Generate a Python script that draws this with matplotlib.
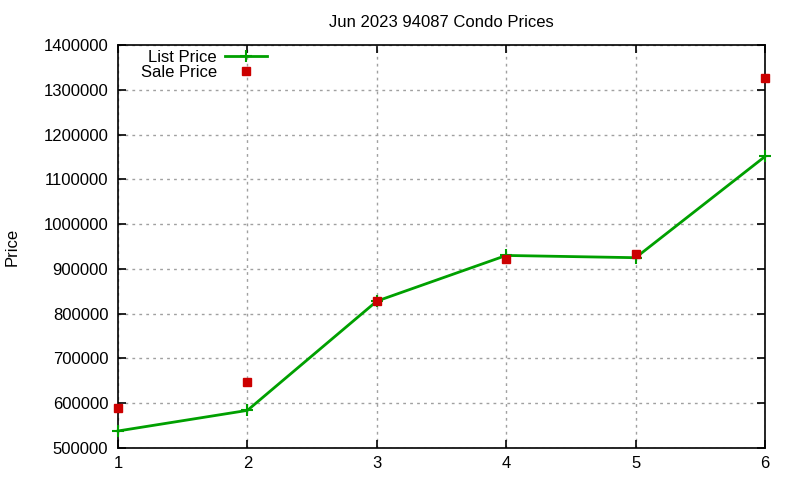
import matplotlib
matplotlib.use('Agg')
import matplotlib.pyplot as plt
from matplotlib.ticker import MultipleLocator, FuncFormatter

# Data
months = [1, 2, 3, 4, 5, 6]
list_price = [538000, 584000, 828000, 930000, 925000, 1151000]
sale_price = [589000, 648000, 828000, 923000, 934000, 1326000]

plt.rcParams['font.family'] = ['Liberation Sans', 'DejaVu Sans']

fig = plt.figure(figsize=(8, 4.8), dpi=100)
ax = fig.add_axes([118 / 800, 1 - 448 / 480, (765 - 118) / 800, (448 - 45) / 480])

# List price line with crosses, sale price squares
ax.plot(months, list_price, color='#00a000', linewidth=2, marker='+',
        markersize=9, markeredgewidth=1.5, label='List Price', zorder=3,
        clip_on=False)
ax.plot(months, sale_price, linestyle='none', marker='s', color='#cc0000',
        markersize=6, label='Sale Price', zorder=4, clip_on=False)

ax.set_xlim(1, 6)
ax.set_ylim(500000, 1400000)
ax.xaxis.set_major_locator(MultipleLocator(1))
ax.yaxis.set_major_locator(MultipleLocator(100000))
ax.yaxis.set_major_formatter(FuncFormatter(lambda v, p: f"{int(v)}"))

# gnuplot-like ticks and grid
ax.tick_params(direction='in', top=True, right=True, labelsize=12, length=6, width=1.2)
ax.tick_params(axis='y', pad=7)
ax.tick_params(axis='x', pad=6)
ax.grid(True, linestyle=(0, (2, 3)), color='#a0a0a0', linewidth=1)
for s in ax.spines.values():
    s.set_linewidth(1.2)

ax.set_title("Jun 2023 94087 Condo Prices", fontsize=12, pad=13)
fig.text(12 / 800, 1 - 247 / 480, "Price", rotation=90, ha='center', va='center', fontsize=12)

leg = ax.legend(loc='upper left', bbox_to_anchor=(0.022, 1.008), frameon=False,
                markerfirst=False, fontsize=12, handlelength=2.5,
                borderaxespad=0.1, labelspacing=0.0, handletextpad=0.5)
for t in leg.get_texts():
    t.set_ha('right')
leg._legend_box.align = 'right'

fig.savefig('out.png', dpi=100)
